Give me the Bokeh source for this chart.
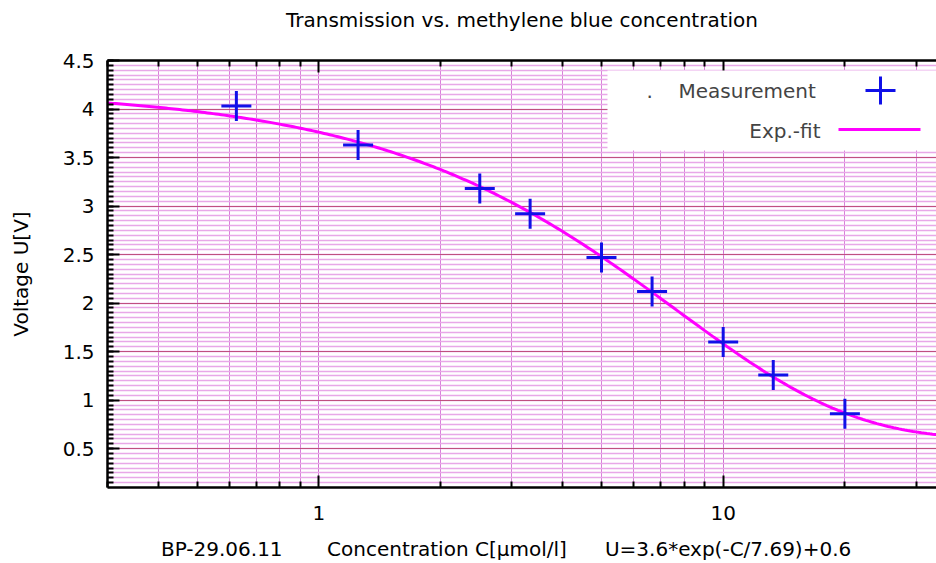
import numpy as np
from bokeh.plotting import figure
from bokeh.models import (FixedTicker, SingleIntervalTicker, LogAxis, Label, BoxAnnotation,
                          CustomJSTickFormatter, Range1d)
from bokeh.embed import file_html
from bokeh.resources import INLINE

# ---- data ----
concentration = [0.625, 1.25, 2.5, 3.33, 5.0, 6.67, 10.0, 13.3, 20.0]
voltage = [4.03, 3.63, 3.18, 2.92, 2.47, 2.12, 1.60, 1.26, 0.86]
fit_amp, fit_tau, fit_offset = 3.6, 7.69, 0.6
x_major_ticks = [1, 10]
x_minor_ticks = [0.3, 0.4, 0.5, 0.6, 0.7, 0.8, 0.9, 2, 3, 4, 5, 6, 7, 8, 9, 20, 30]
title_text = "Transmission vs. methylene blue concentration"
ylabel_text = "Voltage U[V]"
xlabel_parts = ["BP-29.06.11", "Concentration C[µmol/l]", "U=3.6*exp(-C/7.69)+0.6"]
legend_labels = ["Measurement", "Exp.-fit"]

FONT = "DejaVu Sans"
FS = "20px"
NB = "\u00a0"
W, H = 936, 563
FL, FT, FB = 107, 60, 487  # frame left/top/bottom in canvas px

p = figure(width=W, height=H, x_axis_type="log", output_backend="svg", toolbar_location=None,
           x_range=Range1d(0.3, 33.7), y_range=Range1d(0.1, 4.5),
           min_border_left=FL, min_border_right=0, min_border_top=FT, min_border_bottom=H - FB)
p.outline_line_color = None
p.background_fill_color = "white"
p.title.visible = False

# axes
xt = FixedTicker(ticks=x_major_ticks, minor_ticks=x_minor_ticks)
yt = SingleIntervalTicker(interval=0.5, num_minor_ticks=10)
fmt = CustomJSTickFormatter(code="return String(tick)")
p.xaxis.ticker = xt
p.yaxis.ticker = yt
p.xaxis.formatter = fmt
p.yaxis.formatter = fmt
for ax in (p.xaxis[0], p.yaxis[0]):
    ax.axis_line_color = "black"
    ax.axis_line_width = 2.5
    ax.major_tick_in = 12
    ax.major_tick_out = 0
    ax.minor_tick_in = 6
    ax.minor_tick_out = 0
    ax.major_tick_line_width = 2
    ax.minor_tick_line_width = 2
    ax.major_label_text_font = FONT
    ax.major_label_text_font_size = FS
    ax.major_label_text_color = "black"
    ax.axis_label_text_font = FONT
    ax.axis_label_text_font_size = FS
    ax.axis_label_text_font_style = "normal"
    ax.axis_label_text_color = "black"
p.xaxis.major_label_standoff = 18
p.yaxis.major_label_standoff = 13
p.yaxis.axis_label = ylabel_text
p.yaxis.axis_label_standoff = 27
p.xaxis.axis_label = (xlabel_parts[0] + NB * 7 + xlabel_parts[1] + NB * 6 + xlabel_parts[2]
                      + NB * 5)
p.xaxis.axis_label_standoff = 14

# top border axis carries the chart title as its label
top = LogAxis(ticker=xt, formatter=CustomJSTickFormatter(code="return ''"),
              axis_line_color="black", axis_line_width=2.5,
              major_tick_in=12, major_tick_out=0, minor_tick_in=6, minor_tick_out=0,
              major_tick_line_width=2, minor_tick_line_width=2, major_label_standoff=0,
              major_label_text_font_size=FS,
              axis_label=title_text, axis_label_text_font=FONT, axis_label_text_font_size=FS,
              axis_label_text_font_style="normal", axis_label_text_color="black",
              axis_label_standoff=29)
p.add_layout(top, "above")

# grids
p.xgrid.ticker = xt
p.xgrid.grid_line_color = "#d070d0"
p.xgrid.grid_line_width = 1
p.xgrid.minor_grid_line_color = "#d880d8"
p.xgrid.minor_grid_line_width = 1
p.ygrid.ticker = yt
p.ygrid.grid_line_color = "#c05080"
p.ygrid.grid_line_width = 1.2
p.ygrid.minor_grid_line_color = "#e8a8e8"
p.ygrid.minor_grid_line_width = 1.5

# fit curve from the stated fit parameters
xf = np.geomspace(0.3, 34, 300)
yf = fit_amp * np.exp(-xf / fit_tau) + fit_offset
p.line(xf, yf, line_color="#ff00ff", line_width=3)

# measurements
p.scatter(concentration, voltage, marker="cross", size=30, line_color="#1010e8", line_width=3)

def sx(X):
    return X - FL

def sy(Y):
    return FB - Y

# legend (manual, gnuplot style)
p.add_layout(BoxAnnotation(left=sx(607), right=sx(936), top=sy(70), bottom=sy(150),
                           left_units="screen", right_units="screen", top_units="screen",
                           bottom_units="screen", fill_color="white", fill_alpha=1,
                           line_color=None))
p.add_layout(Label(x=sx(646), y=sy(90), x_units="screen", y_units="screen", text=".",
                   text_font=FONT, text_font_size=FS, text_baseline="middle"))
p.add_layout(Label(x=sx(678), y=sy(90), x_units="screen", y_units="screen", text=legend_labels[0],
                   text_font=FONT, text_font_size=FS, text_baseline="middle"))
p.add_layout(Label(x=sx(820), y=sy(130), x_units="screen", y_units="screen", text=legend_labels[1],
                   text_font=FONT, text_font_size=FS, text_baseline="middle", text_align="right"))
for l, r, t, b, c in [(865, 895, 88.5, 91.5, "#1010e8"), (878.5, 881.5, 76, 104, "#1010e8"),
                      (838, 920, 127.5, 130.5, "#ff00ff")]:
    p.add_layout(BoxAnnotation(left=sx(l), right=sx(r), top=sy(t), bottom=sy(b),
                               left_units="screen", right_units="screen", top_units="screen",
                               bottom_units="screen", fill_color=c, fill_alpha=1, line_color=None))

open("out.html", "w").write(file_html(p, INLINE))
